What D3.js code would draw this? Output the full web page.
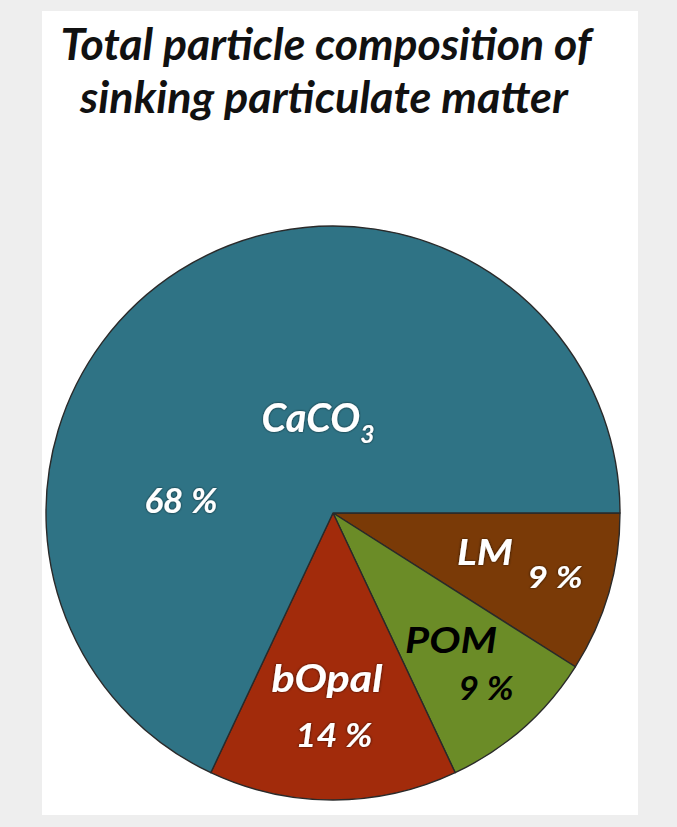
<!DOCTYPE html>
<html>
<head>
<meta charset="utf-8">
<script src="https://cdn.jsdelivr.net/npm/d3@7"></script>
<style>
  html, body { margin: 0; padding: 0; background: #eeeeee; }
  svg { display: block; }
  text { font-family: Lato, "Open Sans", "Liberation Sans", sans-serif; font-weight: 700; font-style: italic; }
</style>
</head>
<body>
<script>
// Composition of sinking particulate matter (percent of total)
const categories = ["LM", "POM", "bOpal", "CaCO3"];
const values = [9, 9, 14, 68];
const valueLabels = ["9 %", "9 %", "14 %", "68 %"];
const titleLines = ["Total particle composition of", "sinking particulate matter"];

const W = 677, H = 827;
const cx = 333, cy = 513, R = 287;

const colors = {
  LM: "#7a3a07",
  POM: "#6b8c27",
  bOpal: "#a22b0b",
  CaCO3: "#2f7385"
};

// Label layout: anchor points, font sizes, target widths, text colour
const layout = {
  CaCO3: { name: [318, 432], nameFs: 40, nameW: 113, val: [181, 513], valFs: 35, valW: 73, fill: "#fff" },
  LM:    { name: [485, 565], nameFs: 37, nameW: 56,  val: [555, 588], valFs: 30, valW: 55, fill: "#fff" },
  POM:   { name: [451, 653], nameFs: 36, nameW: 92,  val: [486, 700], valFs: 32, valW: 55, fill: "#000" },
  bOpal: { name: [327, 692], nameFs: 38, nameW: 111, val: [334, 747], valFs: 33, valW: 77, fill: "#fff" }
};

const svg = d3.select("body").append("svg")
  .attr("width", W).attr("height", H);

const defs = svg.append("defs");
const f = defs.append("filter").attr("id", "halo")
  .attr("x", "-20%").attr("y", "-20%").attr("width", "140%").attr("height", "140%");
f.append("feDropShadow").attr("dx", 0).attr("dy", 0).attr("stdDeviation", 1.3)
  .attr("flood-color", "#000").attr("flood-opacity", 0.75);

// white panel
svg.append("rect").attr("x", 42).attr("y", 11).attr("width", 596).attr("height", 804)
  .attr("fill", "#ffffff");

// Places a centred text at (x, y), then squeezes it horizontally to the given width
function placeText(parent, x, y, fs, target) {
  const t = parent.append("text")
    .attr("x", 0).attr("y", 0)
    .attr("text-anchor", "middle")
    .attr("font-size", fs);
  return {
    el: t,
    fit() {
      const w = t.node().getComputedTextLength();
      t.attr("transform", `translate(${x},${y}) scale(${target / w},1)`);
      return t;
    }
  };
}

// title
const titleY = [60, 113];
const titleW = [531, 488];
const titleX = [326, 324];
titleLines.forEach((s, i) => {
  const p = placeText(svg, titleX[i], titleY[i], 43, titleW[i]);
  p.el.attr("fill", "#111").text(s);
  p.fit();
});

// pie: starts at 3 o'clock, runs clockwise
const pie = d3.pie().sort(null).value(d => d.v)
  .startAngle(Math.PI / 2).endAngle(Math.PI / 2 + 2 * Math.PI);
const data = categories.map((c, i) => ({ c, v: values[i], label: valueLabels[i] }));
const arcs = pie(data);
const arc = d3.arc().innerRadius(0).outerRadius(R);

const g = svg.append("g").attr("transform", `translate(${cx},${cy})`);
g.selectAll("path").data(arcs).join("path")
  .attr("d", arc)
  .attr("fill", d => colors[d.data.c])
  .attr("stroke", "#2a2a2a")
  .attr("stroke-width", 1.4)
  .attr("stroke-linejoin", "round");

// labels
arcs.forEach(a => {
  const L = layout[a.data.c];
  const white = L.fill === "#fff";
  const n = placeText(svg, L.name[0], L.name[1], L.nameFs, L.nameW);
  n.el.attr("fill", L.fill).attr("filter", white ? "url(#halo)" : null);
  if (a.data.c === "CaCO3") {
    n.el.append("tspan").text("CaCO");
    n.el.append("tspan").attr("font-size", "0.62em").attr("dy", 11).text("3");
  } else {
    n.el.text(a.data.c);
  }
  n.fit();
  const v = placeText(svg, L.val[0], L.val[1], L.valFs, L.valW);
  v.el.attr("fill", L.fill).attr("filter", white ? "url(#halo)" : null).text(a.data.label);
  v.fit();
});
</script>
</body>
</html>
